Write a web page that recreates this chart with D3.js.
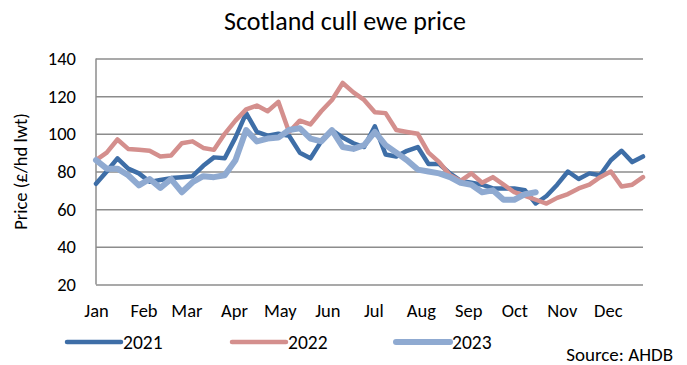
<!DOCTYPE html>
<html>
  <head>
    <title>Scotland cull ewe price</title>
    <script src="https://d3js.org/d3.v7.min.js"></script>
    <style>
      body { margin: 0; background: #fff; }
      svg { font-family: Carlito, Lato, "Open Sans", sans-serif; }
    </style>
  </head>
  <body>
    <svg width="687" height="365"></svg>
    <script>
      // weekly prices, £/hd lwt (week 1 .. 52)
      var prices2021 = [73.5, 80, 87, 81.5, 79, 74.5, 75.5, 76.5, 77, 77.5, 83, 87.5, 87,
        98, 111, 101, 99, 100, 99, 90, 87, 96, 102, 98, 95, 93,
        104, 89, 88, 91, 93, 84, 84, 79, 75, 74, 73, 71, 71, 71,
        70, 63, 67, 73, 80, 76, 79, 78, 86, 91, 85, 88];
      var prices2022 = [86, 90, 97, 92, 91.5, 91, 88, 88.5, 95, 96, 92.5, 91.5, 100,
        107, 113, 115, 112, 117, 101, 107, 105, 112, 118, 127, 122, 118,
        111.5, 111, 102, 101, 100, 90, 85, 78, 75, 79, 74, 77, 73, 69,
        67, 65, 63, 66, 68, 71, 73, 77, 80, 72, 73, 77];
      var prices2023 = [86, 81.5, 81.5, 78, 72.6, 76, 71.3, 76, 69, 74.3, 77.5, 77, 78,
        86, 102, 96, 97.5, 98, 102, 103, 97.5, 96, 102, 93, 92, 94,
        101, 94, 90, 86, 81, 80, 79, 77, 74, 73, 69, 70, 65, 65,
        68, 69];
      var years = ["2021", "2022", "2023"];
      var colours = ["#3e6ea7", "#d48f8d", "#8faad1"];
      var months = ["Jan", "Feb", "Mar", "Apr", "May", "Jun", "Jul", "Aug", "Sep", "Oct", "Nov", "Dec"];
      var monthStartDay = [0, 31, 59, 90, 120, 151, 181, 212, 243, 273, 304, 334];
      var yTicks = [20, 40, 60, 80, 100, 120, 140];

      var series = [prices2021, prices2022, prices2023];

      var svg = d3.select("svg");
      var plotLeft = 96, plotRight = 643, plotTop = 58.5, plotBottom = 284.5;
      var fontStack = "Carlito, Lato, 'Open Sans', sans-serif";

      var xScale = d3.scaleLinear().domain([0, 51]).range([plotLeft, plotRight]);
      var yScale = d3.scaleLinear().domain([20, 140]).range([plotBottom, plotTop]);

      // title
      svg.append("text").attr("x", 345).attr("y", 30)
        .attr("text-anchor", "middle").attr("font-size", 26).attr("fill", "#000")
        .text("Scotland cull ewe price");

      // gridlines + y labels
      var yAxis = d3.axisLeft(yScale).tickValues(yTicks)
        .tickSize(-(plotRight - plotLeft)).tickPadding(20);
      var gy = svg.append("g").attr("transform", "translate(" + plotLeft + ",0)").call(yAxis);
      gy.select(".domain").remove();
      gy.selectAll(".tick line").attr("stroke", "#8c8c8c").attr("stroke-width", 1.5);
      gy.selectAll(".tick text").attr("font-size", 18.5).attr("fill", "#000")
        .attr("font-family", fontStack);

      // y axis line
      svg.append("line").attr("x1", plotLeft).attr("x2", plotLeft)
        .attr("y1", plotTop).attr("y2", plotBottom)
        .attr("stroke", "#8c8c8c").attr("stroke-width", 1.5);

      // month labels (placed at the week each month starts)
      var gx = svg.append("g").attr("transform", "translate(0," + plotBottom + ")")
        .call(d3.axisBottom(xScale)
          .tickValues(monthStartDay.map(function(d) { return d / 7; }))
          .tickFormat(function(d, i) { return months[i]; })
          .tickSize(0).tickPadding(19));
      gx.select(".domain").remove();
      gx.selectAll(".tick text").attr("font-size", 18.5).attr("fill", "#000")
        .attr("font-family", fontStack);

      // y title
      svg.append("text")
        .attr("transform", "translate(27," + ((plotTop + plotBottom) / 2) + ") rotate(-90)")
        .attr("text-anchor", "middle").attr("font-size", 18.5).attr("fill", "#000")
        .text("Price (£/hd lwt)");

      // lines
      var line = d3.line()
        .x(function(d, i) { return xScale(i); })
        .y(function(d) { return yScale(d); });

      var widths = [4.5, 4.5, 6];
      series.forEach(function(s, i) {
        svg.append("path").datum(s)
          .attr("d", line)
          .attr("fill", "none")
          .attr("stroke", colours[i])
          .attr("stroke-width", widths[i])
          .attr("stroke-linejoin", "round")
          .attr("stroke-linecap", "round");
      });

      // legend
      var legendX = [67, 232, 396];
      var legend = svg.append("g");
      years.forEach(function(y, i) {
        legend.append("line")
          .attr("x1", legendX[i]).attr("x2", legendX[i] + 54)
          .attr("y1", 342).attr("y2", 342)
          .attr("stroke", colours[i]).attr("stroke-width", widths[i])
          .attr("stroke-linecap", "round");
        legend.append("text")
          .attr("x", legendX[i] + 56).attr("y", 349)
          .attr("font-size", 19.5).attr("fill", "#000")
          .text(y);
      });

      svg.append("text").attr("x", 673).attr("y", 361)
        .attr("text-anchor", "end").attr("font-size", 19)
        .attr("fill", "#000")
        .text("Source: AHDB");
    </script>
  </body>
</html>
